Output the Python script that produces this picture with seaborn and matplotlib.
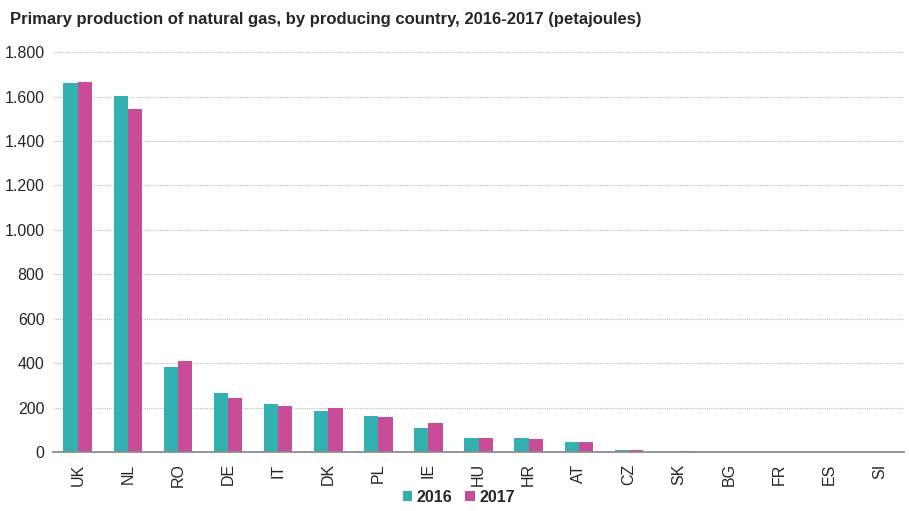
import matplotlib.pyplot as plt
import matplotlib.ticker as mticker
import pandas as pd
import seaborn as sns

# Data (petajoules)
countries = ["UK", "NL", "RO", "DE", "IT", "DK", "PL", "IE", "HU",
             "HR", "AT", "CZ", "SK", "BG", "FR", "ES", "SI"]
values_2016 = [1662, 1601, 385, 265, 219, 186, 162, 110, 63,
               66, 44, 9, 1, 0.5, 0.5, 0.3, 0.2]
values_2017 = [1667, 1544, 410, 246, 208, 198, 160, 130, 63,
               60, 48, 9, 4, 0.5, 0.3, 0.2, 0.1]
years = ["2016", "2017"]
colors = ["#33B0B0", "#C84C97"]

df = pd.DataFrame({
    "country": countries * 2,
    "year": [years[0]] * len(countries) + [years[1]] * len(countries),
    "value": values_2016 + values_2017,
})

sns.set_style("white")
plt.rcParams["font.family"] = ["Liberation Sans", "DejaVu Sans"]

fig, ax = plt.subplots(figsize=(9.09, 5.11), dpi=100)
sns.barplot(data=df, x="country", y="value", hue="year", palette=colors,
            width=0.57, gap=0, ax=ax, saturation=1, linewidth=0, legend=True)

ax.set_ylim(0, 1800)
ax.set_xlim(-0.5, len(countries) - 0.5)
ax.yaxis.set_major_locator(mticker.MultipleLocator(200))
ax.yaxis.set_major_formatter(mticker.FuncFormatter(lambda v, p: f"{int(v):,}".replace(",", ".")))
ax.grid(axis="y", color="#BDBDBD", linestyle=(0, (1, 1)), linewidth=0.8)
ax.set_axisbelow(True)

for s in ["top", "right", "left"]:
    ax.spines[s].set_visible(False)
ax.spines["bottom"].set_color("#8C8C8C")
ax.spines["bottom"].set_linewidth(1.3)

ax.set_xlabel("")
ax.set_ylabel("")
ax.tick_params(axis="y", length=0, labelsize=11.5, pad=6)
ax.tick_params(axis="x", which="major", length=0, labelsize=11.5, rotation=90, pad=8)
ax.xaxis.set_minor_locator(mticker.FixedLocator([i + 0.5 for i in range(-1, len(countries))]))
ax.tick_params(axis="x", which="minor", length=5, color="#8C8C8C", width=1.2)

handles, labels = ax.get_legend_handles_labels()
ax.get_legend().remove()
fig.legend(handles, labels, loc="center", bbox_to_anchor=(0.505, 0.027), ncol=2, frameon=False,
           handlelength=0.6, handleheight=0.6, handletextpad=0.3, columnspacing=0.8,
           prop={"weight": "bold", "size": 11.5})

fig.text(0.011, 0.962, "Primary production of natural gas, by producing country, 2016-2017 (petajoules)",
         fontsize=12, fontweight="bold", va="center", ha="left")

fig.subplots_adjust(left=0.058, right=0.995, top=0.898, bottom=0.115)
fig.savefig("out.png", dpi=100)
